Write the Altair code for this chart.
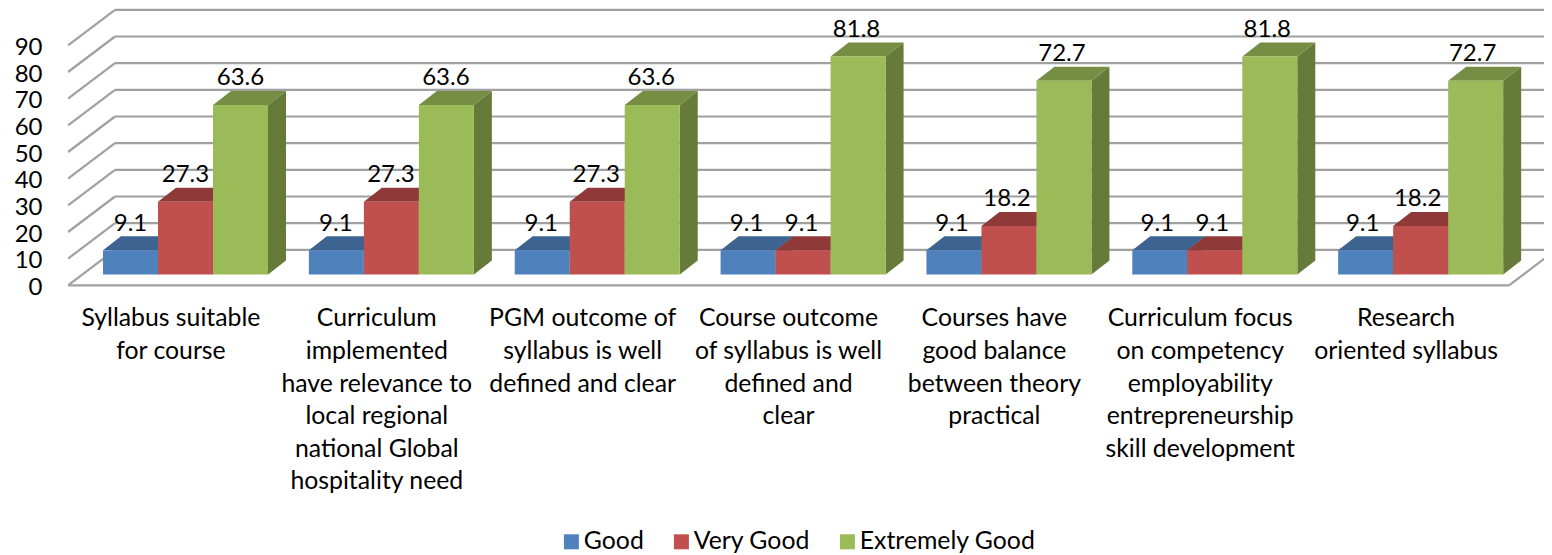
import altair as alt
import pandas as pd

categories = [
    "Syllabus suitable\nfor course",
    "Curriculum\nimplemented\nhave relevance to\nlocal regional\nnational Global\nhospitality need",
    "PGM outcome of\nsyllabus is well\ndefined and clear",
    "Course outcome\nof syllabus is well\ndefined and\nclear",
    "Courses have\ngood balance\nbetween theory\npractical",
    "Curriculum focus\non competency\nemployability\nentrepreneurship\nskill development",
    "Research\noriented syllabus",
]
series = ["Good", "Very Good", "Extremely Good"]
good = [9.1, 9.1, 9.1, 9.1, 9.1, 9.1, 9.1]
very_good = [27.3, 27.3, 27.3, 9.1, 18.2, 9.1, 18.2]
extremely_good = [63.6, 63.6, 63.6, 81.8, 72.7, 81.8, 72.7]
values = [good, very_good, extremely_good]
y_ticks = [0, 10, 20, 30, 40, 50, 60, 70, 80, 90]
front_colors = ["#4F81BD", "#C0504D", "#9BBB59"]
top_colors = ["#3D6390", "#8F3A38", "#768E43"]
side_colors = ["#314F73", "#6E2C2A", "#667A3A"]

FONT = "Lato"
FS_NUM = 24
FS_TXT = 24.8
PX_SLOT = 205.86
PX_UNIT = 8 / 3
# geometry in category slots (x) and value units (y)
VIEW_W, VIEW_H = 1476, 547
x_max = VIEW_W / PX_SLOT
y_top, y_bottom = 104.0, 104.0 - 547 / PX_UNIT
wall_dx, wall_dy = 47 / PX_SLOT, 35.5 / PX_UNIT
bar_start, bar_w = 35 / PX_SLOT, 55 / PX_SLOT
bar_dx, bar_dy = 18 / PX_SLOT, 14 / PX_UNIT
bar_base = 10.8 / PX_UNIT
label_gap = 10.0
label_drift = 0.5 / PX_SLOT
cat_y = -7.9

xs = alt.Scale(domain=[0, x_max], nice=False, zero=False)
ys = alt.Scale(domain=[y_bottom, y_top], nice=False, zero=False)
yaxis = alt.Axis(values=y_ticks, grid=False, domain=False, ticks=False, title=None,
                 labelFont=FONT, labelFontSize=FS_NUM, labelColor="#000000", labelPadding=26,
                 labelAngle=0, labelOverlap=False, format="d", labelOffset=2)


def X(f="x"):
    return alt.X(f"{f}:Q", scale=xs, axis=None)


def Y(f="y"):
    return alt.Y(f"{f}:Q", scale=ys, axis=yaxis)


# walls and floor
rule_rows = []
for v in y_ticks:
    rule_rows.append(dict(x=0, x2=wall_dx, y=v, y2=v + wall_dy))
    rule_rows.append(dict(x=wall_dx, x2=7 + wall_dx, y=v + wall_dy, y2=v + wall_dy))
rule_rows.append(dict(x=0, x2=7, y=0, y2=0))
rule_rows.append(dict(x=7, x2=7 + wall_dx, y=0, y2=wall_dy))
grid = alt.Chart(pd.DataFrame(rule_rows)).mark_rule(
    color="#A0A0A0", strokeWidth=2.2, clip=True
).encode(x=X(), x2="x2:Q", y=Y(), y2="y2:Q")

layers = [grid]
front_rows, label_rows = [], []
for s, (name, vals) in enumerate(zip(series, values)):
    side_rows, top_rows = [], []
    for c, v in enumerate(vals):
        x0 = c + bar_start + s * bar_w
        x1 = x0 + bar_w
        b = bar_base
        t = bar_base + v
        front_rows.append(dict(series=name, x=x0, x2=x1, y=b, y2=t))
        label_rows.append(dict(x=(x0 + x1) / 2 - c * label_drift, y=t + label_gap, label=f"{v:.1f}"))
        side_rows += [
            dict(cat=c, x=x1, y=b, y2=t),
            dict(cat=c, x=x1 + bar_dx, y=b + bar_dy, y2=t + bar_dy),
        ]
        top_rows += [
            dict(cat=c, x=x0, y=t, y2=t),
            dict(cat=c, x=x0 + bar_dx, y=t, y2=t + bar_dy),
            dict(cat=c, x=x1, y=t, y2=t + bar_dy),
            dict(cat=c, x=x1 + bar_dx, y=t + bar_dy, y2=t + bar_dy),
        ]
    for rows, col in ((side_rows, side_colors[s]), (top_rows, top_colors[s])):
        layers.append(
            alt.Chart(pd.DataFrame(rows)).mark_area(color=col, orient="vertical", opacity=1).encode(
                x=X(), y=alt.Y("y:Q", scale=ys, axis=yaxis, stack=None), y2="y2:Q", detail="cat:N"
            )
        )

fronts = alt.Chart(pd.DataFrame(front_rows)).mark_rect().encode(
    x=X(), x2="x2:Q", y=Y(), y2="y2:Q",
    color=alt.Color(
        "series:N",
        scale=alt.Scale(domain=series, range=front_colors),
        legend=alt.Legend(
            orient="none", legendX=491, legendY=521, direction="horizontal", columns=3,
            title=None, symbolType="square", symbolSize=225, symbolStrokeWidth=0,
            labelFont=FONT, labelFontSize=FS_TXT, labelColor="#000000", labelLimit=400,
            labelOffset=0, columnPadding=25, symbolOpacity=1,
        ),
    ),
)
layers.append(fronts)

labels = alt.Chart(pd.DataFrame(label_rows)).mark_text(
    font=FONT, fontSize=FS_NUM, color="#000000"
).encode(x=X(), y=Y(), text="label:N")
layers.append(labels)

cat_df = pd.DataFrame({"x": [i + 0.5 for i in range(len(categories))],
                       "y": [cat_y] * len(categories), "label": categories})
cats = alt.Chart(cat_df).mark_text(
    font=FONT, fontSize=FS_TXT, color="#000000", lineBreak="\n", lineHeight=32.6, baseline="top"
).encode(x=X(), y=Y(), text="label:N")
layers.append(cats)

chart = alt.layer(*layers).properties(
    width=VIEW_W, height=VIEW_H,
    autosize=alt.AutoSizeParams(type="none"),
    padding={"left": 60, "top": 0, "right": 0, "bottom": 0},
    background="#FFFFFF",
).configure_view(stroke=None)

chart.save("out.html", embed_options={"renderer": "svg", "actions": False})
